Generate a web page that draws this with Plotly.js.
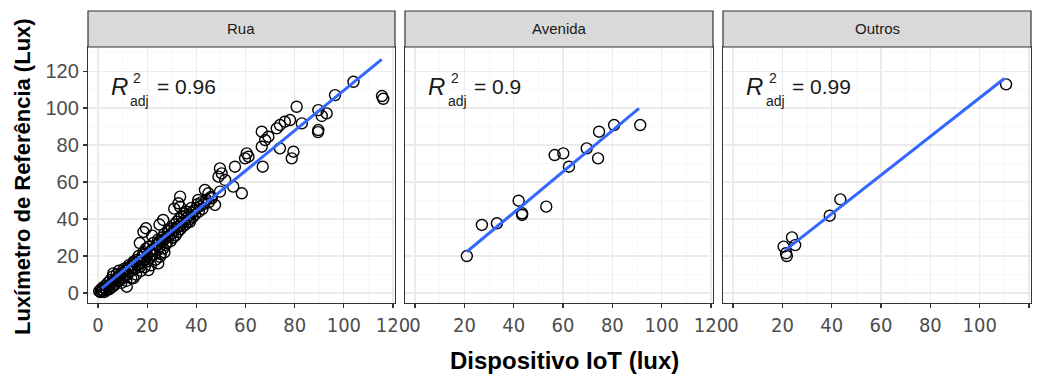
<!DOCTYPE html>
<html>
<head>
<meta charset="utf-8">
<script src="https://cdn.plot.ly/plotly-3.0.1.min.js"></script>
<style>html,body{margin:0;padding:0;background:#fff;}#chart{width:1045px;height:379px;}</style>
</head>
<body>
<div id="chart"></div>
<script>
// ---------- DATA ----------
const panels = ['Rua', 'Avenida', 'Outros'];
const r2Values = ['0.96', '0.9', '0.99'];

const ruaX = [0.5,1,1.2,1.5,2,2,2.5,3,3,3.5,4,4,4.5,5,5,5.5,6,6,6.5,7,7,7.5,8,8,8.5,9,9,9.5,10,10,10.5,11,11,11.5,12,12,12.5,13,13,13.5,14,14,14.5,15,15,15.5,16,16,16.5,17,17,17.5,18,18,18.5,19,19,19,19.5,20,20,20.5,21,21,21.5,22,22,22.5,23,23,23.5,24,24,24.5,25,25,25.5,26,26,26.5,27,27,27.5,28,28,28.5,29,29,29.5,30,30,30.5,31,31,31.5,32,32,32.5,33,33,33.5,34,34,34.5,35,35,35.5,36,36,36.5,37,37.5,38,38,38.5,39,39.5,40,40.5,41,41.5,42,42.5,43,44,45,46,
17,18.5,19.5,22,25,26.5,14.4,20.5,24.5,25.2,27,6.2,11.7,
31,33.4,32.7,33.4,37.4,40.8,43.5,44.9,46.3,47.6,49.6,55,58.5,51.7,49,50.3,49.6,55.7,59.8,61.2,60.5,67,66.6,68,69.3,66.6,72.7,74,76,78.1,74,79.5,78.8,82.9,80.8,89.6,93,91,89.6,89.5,96.4,103.9,115.5,116];
const ruaY = [1,0.5,2,0.8,1.5,3,0.5,2.5,4,1.5,3,5.5,2,4.5,7,3,6,9,4,7.5,5,10,6.5,8.5,12,7,10,5.5,11,8,13,9.5,12,6.5,13.5,10,15,11.5,14,8,15.5,12.5,17,13,16.5,10,18,15,20,14,17.5,12,19.5,16.5,22,18,21,14,24,20,17,25,22,19,15,23.5,20.5,27,24,21,18,26,23,29,25,28,21,27.5,30,24,29,32,26,30.5,27,34,31,33.5,28,32,35,30,34,37,31,35.5,38.5,33,36,40,34.5,38,41.5,36,39,43,37,40.5,44,38.5,42,40,43.5,46,41,44.5,42.5,46,48,44,47,49,45.5,48,50.5,49,52,
27,33,35,31,37,39.5,8,12.4,16,19.6,22,10.6,3.4,
45.6,52.1,48.5,46.6,38.5,50.3,55.7,53.9,51.2,47.6,54.8,57.5,53.9,61.1,62.9,64.7,67.4,68.3,72.8,73.7,75.5,68.3,79.1,82.7,84.5,87.2,89,90.8,92.6,93.5,78.2,76.4,72.8,91.7,100.7,98.9,97.1,95.7,88.1,87,107,114.2,106.5,105];

const aveX = [21.0,27.1,33.2,42.0,43.4,43.4,53.2,56.6,60.1,62.4,69.6,74.2,74.6,80.7,91.3];
const aveY = [20.0,36.8,37.7,49.9,43.1,42.2,46.7,74.6,75.5,68.3,78.2,72.8,87.2,90.8,90.8];

const outX = [110.7,43.5,39.2,23.9,25.2,20.5,21.8,21.5];
const outY = [112.8,50.6,41.8,30.1,25.9,25.1,20.0,21.5];

// fitted regression lines (endpoints)
const fitRuaX = [1.5, 115.4];
const fitRuaY = [2.5, 126.3];
const fitAveX = [21.0, 90.8];
const fitAveY = [22.3, 99.8];
const fitOutX = [21.2, 110.0];
const fitOutY = [23.2, 116.0];

const xTicks = [0, 20, 40, 60, 80, 100, 120];
const yTicks = [0, 20, 40, 60, 80, 100, 120];

// ---------- CHART ----------
const W = 1045, H = 379;
const px = v => v / W;
const py = v => 1 - v / H;
const xDomains = [[px(88), px(395)], [px(405), px(713)], [px(723), px(1031)]];
const yDomain = [py(303), py(47)];
const stripTop = py(11);

const narrow = 'Liberation Sans Narrow, DejaVu Sans Condensed, Arial Narrow, Liberation Sans, sans-serif';
const sans = 'Liberation Sans, Arial, sans-serif';

function pts(x, y, i) {
  const s = i === 0 ? '' : String(i + 1);
  return {x, y, xaxis: 'x' + s, yaxis: 'y' + s, type: 'scatter', mode: 'markers',
    marker: {symbol: 'circle-open', size: 11, color: '#000', line: {width: 1.4, color: '#000'}},
    hoverinfo: 'skip', showlegend: false};
}
function fit(x, y, i) {
  const s = i === 0 ? '' : String(i + 1);
  return {x, y, xaxis: 'x' + s, yaxis: 'y' + s, type: 'scatter', mode: 'lines',
    line: {color: '#3366FF', width: 3}, hoverinfo: 'skip', showlegend: false};
}

const data = [
  pts(ruaX, ruaY, 0), pts(aveX, aveY, 1), pts(outX, outY, 2),
  fit(fitRuaX, fitRuaY, 0), fit(fitAveX, fitAveY, 1), fit(fitOutX, fitOutY, 2)
];

const layout = {
  width: W, height: H,
  margin: {l: 0, r: 0, t: 0, b: 0},
  paper_bgcolor: '#fff', plot_bgcolor: '#fff',
  showlegend: false,
  annotations: [], shapes: []
};

for (let i = 0; i < 3; i++) {
  const s = i === 0 ? '' : String(i + 1);
  layout['xaxis' + s] = {
    domain: xDomains[i], anchor: 'y' + s, range: [-4.07, 120.8],
    tickvals: xTicks, ticktext: xTicks.map(String),
    showgrid: true, gridcolor: '#ebebeb', gridwidth: 1.1,
    minor: {tickvals: [10, 30, 50, 70, 90, 110], showgrid: true, gridcolor: '#f3f3f3', gridwidth: 0.6, ticks: ''},
    zeroline: false, showline: true, mirror: true, linecolor: '#333', linewidth: 1.2,
    ticks: 'outside', ticklen: 4, tickcolor: '#333', tickwidth: 1.1,
    tickfont: {family: narrow, size: 20, color: '#4d4d4d'}
  };
  layout['yaxis' + s] = {
    domain: yDomain, anchor: 'x' + s, range: [-5.4, 133],
    tickvals: yTicks, ticktext: yTicks.map(String),
    showgrid: true, gridcolor: '#ebebeb', gridwidth: 1.1,
    minor: {tickvals: [10, 30, 50, 70, 90, 110, 130], showgrid: true, gridcolor: '#f3f3f3', gridwidth: 0.6, ticks: ''},
    zeroline: false, showline: true, mirror: true, linecolor: '#333', linewidth: 1.2,
    ticks: i === 0 ? 'outside' : '', ticklen: 4, tickcolor: '#333', tickwidth: 1.1,
    showticklabels: i === 0,
    tickfont: {family: sans, size: 20, color: '#4d4d4d'}
  };
  // strip
  layout.shapes.push({type: 'rect', xref: 'paper', yref: 'paper',
    x0: xDomains[i][0], x1: xDomains[i][1], y0: yDomain[1], y1: stripTop,
    fillcolor: '#d9d9d9', line: {color: '#333', width: 1.2}, layer: 'above'});
  layout.annotations.push({xref: 'paper', yref: 'paper',
    x: (xDomains[i][0] + xDomains[i][1]) / 2, y: (yDomain[1] + stripTop) / 2,
    text: panels[i], showarrow: false, xanchor: 'center', yanchor: 'middle',
    font: {family: sans, size: 15, color: '#1a1a1a'}});
  // R2 adj label
  const xr = 'x' + s, yr = 'y' + s;
  layout.annotations.push({xref: xr, yref: yr, x: 4.6, y: 111.5, text: '<i>R</i>', showarrow: false,
    xanchor: 'left', yanchor: 'middle', font: {family: sans, size: 24, color: '#1a1a1a'}});
  layout.annotations.push({xref: xr, yref: yr, x: 13.6, y: 116.5, text: '2', showarrow: false,
    xanchor: 'left', yanchor: 'middle', font: {family: sans, size: 14, color: '#1a1a1a'}});
  layout.annotations.push({xref: xr, yref: yr, x: 12.4, y: 104.0, text: 'adj', showarrow: false,
    xanchor: 'left', yanchor: 'middle', font: {family: sans, size: 14, color: '#1a1a1a'}});
  layout.annotations.push({xref: xr, yref: yr, x: 23.0, y: 111.5, text: '= ' + r2Values[i], showarrow: false,
    xanchor: 'left', yanchor: 'middle', font: {family: sans, size: 21, color: '#1a1a1a'}});
}

// axis titles
layout.annotations.push({xref: 'paper', yref: 'paper', x: px(564), y: py(360),
  text: '<b>Dispositivo IoT (lux)</b>', showarrow: false, xanchor: 'center', yanchor: 'middle',
  font: {family: sans, size: 24, color: '#000'}});
layout.annotations.push({xref: 'paper', yref: 'paper', x: px(22), y: py(177),
  text: '<b>Luxímetro de Referência (Lux)</b>', showarrow: false, textangle: -90,
  xanchor: 'center', yanchor: 'middle',
  font: {family: sans, size: 22, color: '#000'}});

Plotly.newPlot('chart', data, layout, {staticPlot: true, displayModeBar: false});
</script>
</body>
</html>
